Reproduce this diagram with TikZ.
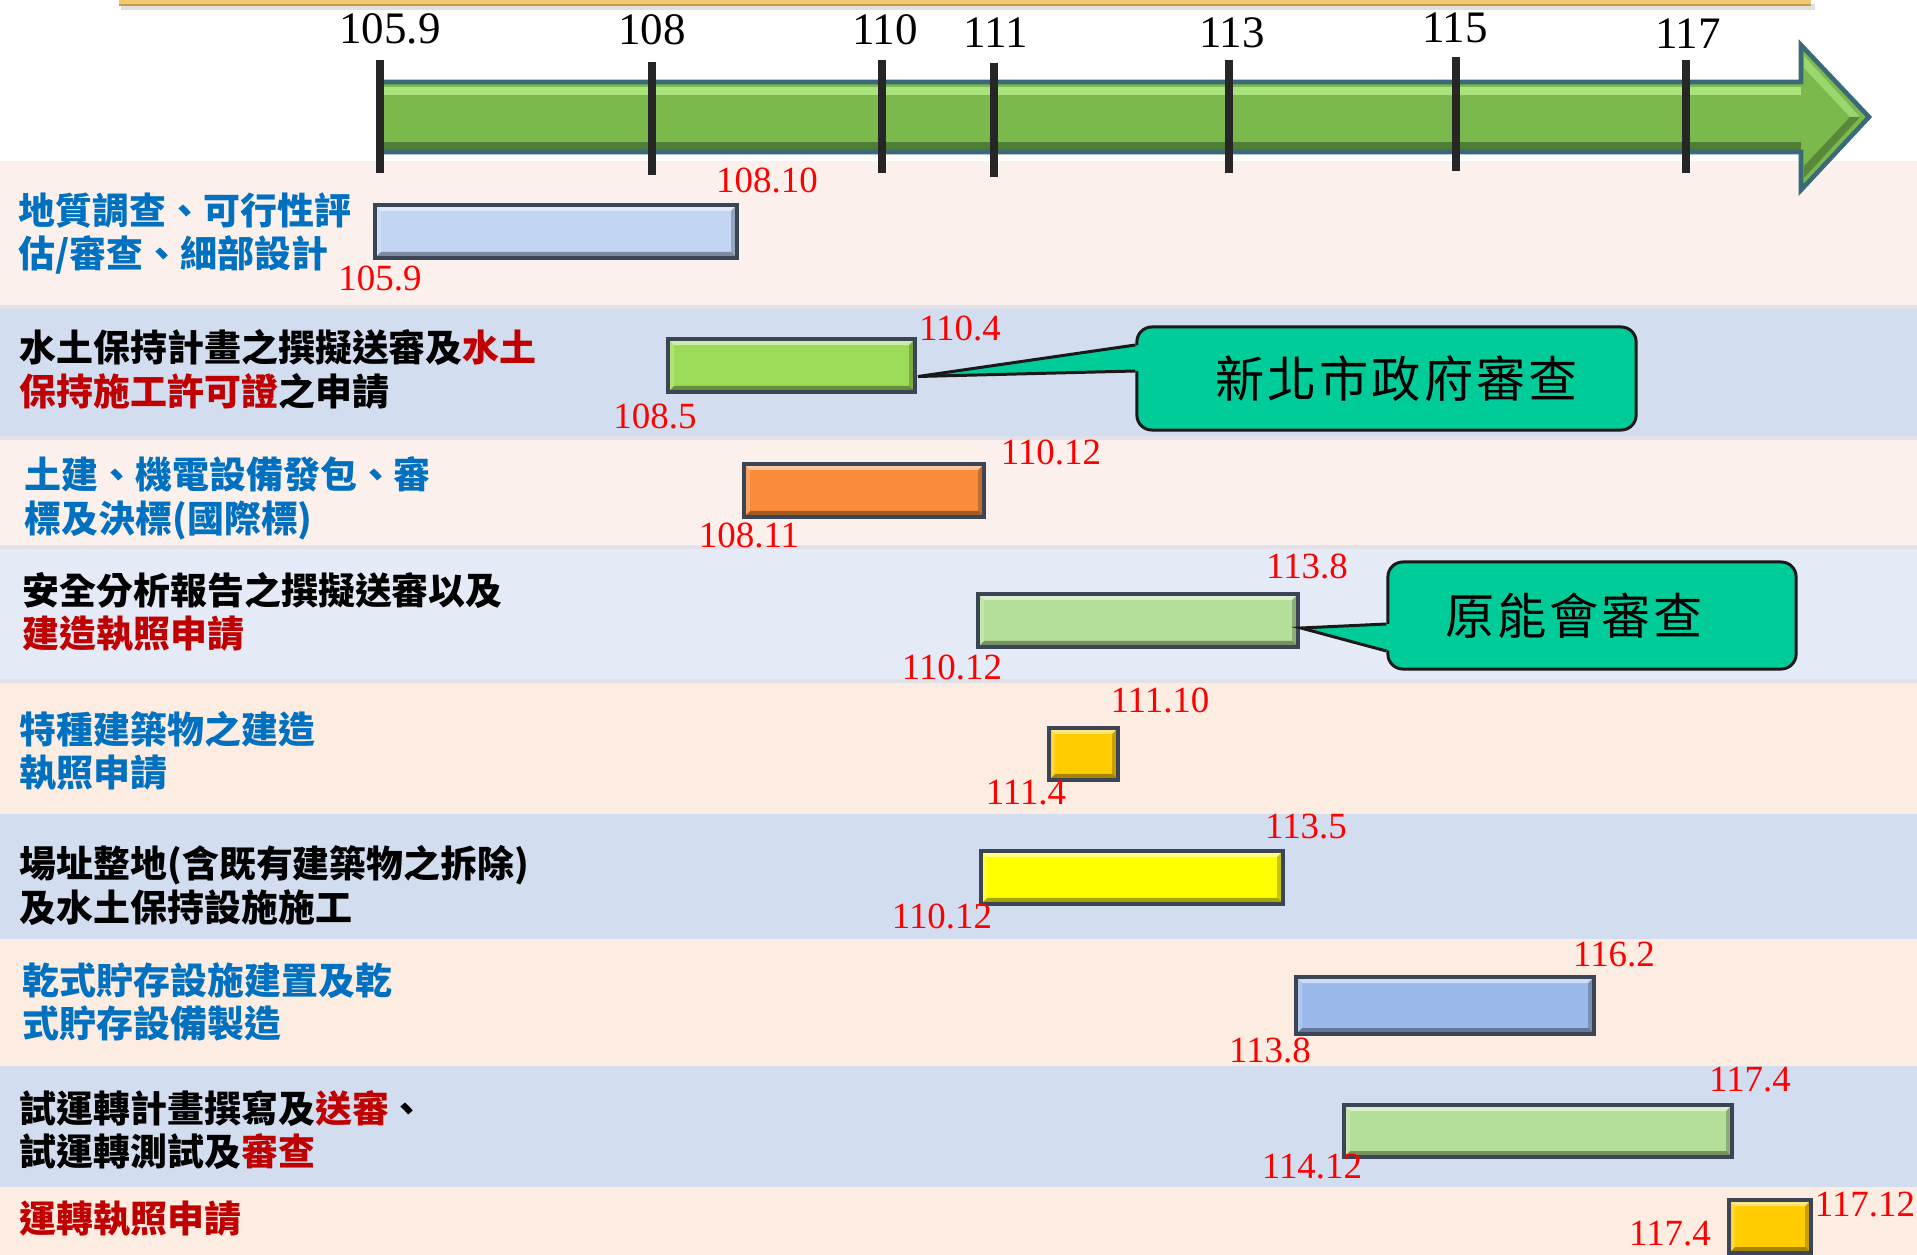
\documentclass[tikz,border=0pt]{standalone}
\usepackage{fontspec}
\setmainfont{Liberation Serif}
\newfontfamily\cjk{Noto Sans CJK TC}
\newfontfamily\cjkcall{Noto Sans CJK TC}[LetterSpace=6]
\usetikzlibrary{fit,calc}
\definecolor{rowpinkA}{HTML}{FBF0EB}
\definecolor{rowpinkB}{HTML}{FDECE2}
\definecolor{rowblue}{HTML}{D2DEEF}
\definecolor{rowblueL}{HTML}{E4EAF6}
\definecolor{rowsep}{HTML}{E3E1E8}
\definecolor{bandfill}{HTML}{F3C873}
\definecolor{bandline}{HTML}{C99A48}
\definecolor{arrgreen}{HTML}{7CB94C}
\definecolor{arrlight}{HTML}{A9E37C}
\definecolor{arrdark}{HTML}{4F7D35}
\definecolor{arrline}{HTML}{3A6A78}
\definecolor{tickcol}{HTML}{262626}
\definecolor{barline}{HTML}{3B4556}
\definecolor{numred}{HTML}{FF0000}
\definecolor{cjkblue}{HTML}{0070C0}
\definecolor{cjkred}{HTML}{C00000}
\definecolor{callfill}{HTML}{00CC99}
\definecolor{cBlueA}{HTML}{C2D5F3}
\definecolor{cLime}{HTML}{9CDB58}
\definecolor{cOrange}{HTML}{FA8B3A}
\definecolor{cPale}{HTML}{B4DF98}
\definecolor{cGold}{HTML}{FFCC00}
\definecolor{cYellow}{HTML}{FFFF00}
\definecolor{cBlueB}{HTML}{9BB8EA}
\begin{document}
\begin{tikzpicture}[x=0.01cm,y=-0.01cm,
  numlab/.style={font=\fontsize{10.5}{12}\selectfont, text=numred, inner sep=0pt},
  ticklab/.style={font=\fontsize{12.8}{14}\selectfont, text=black, inner sep=0pt},
  rowtext/.style={font=\cjk\bfseries\fontsize{10.5}{12.4}\selectfont, align=left, anchor=west, inner sep=0pt},
  tickline/.style={draw=tickcol, line width=2pt},
  callout/.style={draw=black!90, line width=0.85pt, fill=callfill, rounded corners=0.15cm,
    font=\cjkcall\fontsize{14}{16}\selectfont, inner sep=0pt},
  callline/.style={draw=black!90, line width=0.85pt, line join=miter},
  bar/.style={draw=barline, line width=1.1pt, inner sep=0pt, fill=#1,
    path picture={
      \fill[white,opacity=.5] (path picture bounding box.north west) -- (path picture bounding box.north east) -- ($(path picture bounding box.north east)+(-6,6)$) -- ($(path picture bounding box.north west)+(6,6)$) -- cycle;
      \fill[black,opacity=.35] (path picture bounding box.south west) -- (path picture bounding box.south east) -- ($(path picture bounding box.south east)+(-6,-6)$) -- ($(path picture bounding box.south west)+(6,-6)$) -- cycle;
      \fill[black,opacity=.22] (path picture bounding box.north east) -- (path picture bounding box.south east) -- ($(path picture bounding box.south east)+(-6,-6)$) -- ($(path picture bounding box.north east)+(-6,6)$) -- cycle;
      \fill[white,opacity=.2] (path picture bounding box.north west) -- (path picture bounding box.south west) -- ($(path picture bounding box.south west)+(6,-6)$) -- ($(path picture bounding box.north west)+(6,6)$) -- cycle;
    }},
]
\useasboundingbox (0,0) rectangle (1917,1255);
\fill[white] (0,0) rectangle (1917,1255);
% row bands
\fill[rowpinkA] (0,161) rectangle (1917,307);
\fill[rowblue] (0,307) rectangle (1917,438);
\fill[rowpinkA] (0,438) rectangle (1917,547);
\fill[rowblueL] (0,547) rectangle (1917,681);
\fill[rowpinkB] (0,681) rectangle (1917,814);
\fill[rowblue] (0,814) rectangle (1917,939);
\fill[rowpinkB] (0,939) rectangle (1917,1066);
\fill[rowblue] (0,1066) rectangle (1917,1187);
\fill[rowpinkB] (0,1187) rectangle (1917,1255);
\foreach \yy in {307,438,547,681} {\draw[rowsep, line width=1pt] (0,\yy) -- (1917,\yy);}
% top band
\fill[black!12] (121,4) rectangle (1815,10);
\fill[bandfill] (119,-5) rectangle (1811,5);
\draw[bandline, line width=0.8pt] (119,5) -- (1811,5);
% timeline arrow
\fill[arrgreen] (380,82) -- (1801,82) -- (1801,45) -- (1869,117) -- (1801,190) -- (1801,152) -- (380,152) -- cycle;
\fill[arrlight] (382,87) rectangle (1801,95);
\fill[arrdark] (382,142) rectangle (1801,150);
\fill[arrlight!70!arrgreen] (1804,56) -- (1860,117) -- (1850,117) -- (1804,68) -- cycle;
\fill[arrdark!80!arrgreen] (1804,178) -- (1860,117) -- (1850,117) -- (1804,166) -- cycle;
\draw[arrline, line width=1.3pt, line join=miter] (380,82) -- (1801,82) -- (1801,45) -- (1869,117) -- (1801,190) -- (1801,152) -- (380,152);
% ticks
\draw[tickline] (380,60) -- (380,173);
\draw[tickline] (652,62) -- (652,175);
\draw[tickline] (882,60) -- (882,173);
\draw[tickline] (994,63) -- (994,177);
\draw[tickline] (1229,60) -- (1229,173);
\draw[tickline] (1456,57) -- (1456,171);
\draw[tickline] (1686,60) -- (1686,173);
\node[ticklab] (t1) at (390,29) {105.9};
\node[ticklab] (t2) at (652,30) {108};
\node[ticklab] (t3) at (885,30) {110};
\node[ticklab] (t4) at (996,33) {111};
\node[ticklab] (t5) at (1232,33) {113};
\node[ticklab] (t6) at (1455,28) {115};
\node[ticklab] (t7) at (1688,34) {117};
% row texts
\node[rowtext, text=cjkblue] (r1) at (18,233.5) {地質調查、可行性評\\估/審查、細部設計};
\node[rowtext, text=black] (r2) at (19,369.5) {水土保持計畫之撰擬送審及\textcolor{cjkred}{水土}\\\textcolor{cjkred}{保持施工許可證}之申請};
\node[rowtext, text=cjkblue] (r3) at (24,498.5) {土建、機電設備發包、審\\標及決標(國際標)};
\node[rowtext, text=black] (r4) at (22,612) {安全分析報告之撰擬送審以及\\\textcolor{cjkred}{建造執照申請}};
\node[rowtext, text=cjkblue] (r5) at (19,751) {特種建築物之建造\\執照申請};
\node[rowtext, text=black] (r6) at (19,885.5) {場址整地(含既有建築物之拆除)\\及水土保持設施施工};
\node[rowtext, text=cjkblue] (r7) at (22,1002) {乾式貯存設施建置及乾\\式貯存設備製造};
\node[rowtext, text=black] (r8) at (19,1130) {試運轉計畫撰寫及\textcolor{cjkred}{送審}、\\試運轉測試及\textcolor{cjkred}{審查}};
\node[rowtext, text=cjkred] (r9) at (19,1219) {運轉執照申請};
% bars
\node[bar=cBlueA, fit={(375,205) (737,258)}] (b1) {};
\node[bar=cLime, fit={(668,339) (915,392)}] (b2) {};
\node[bar=cOrange, fit={(744,464) (984,517)}] (b3) {};
\node[bar=cPale, fit={(978,594) (1298,647)}] (b4) {};
\node[bar=cGold, fit={(1049,728) (1118,780)}] (b5) {};
\node[bar=cYellow, fit={(981,851) (1283,904)}] (b6) {};
\node[bar=cBlueB, fit={(1296,977) (1594,1034)}] (b7) {};
\node[bar=cPale, fit={(1344,1105) (1732,1157)}] (b8) {};
\node[bar=cGold, fit={(1729,1200) (1811,1253)}] (b9) {};
% number labels
\node[numlab] (n1a) at (767,180) {108.10};
\node[numlab] (n1b) at (380,278) {105.9};
\node[numlab] (n2a) at (960,328) {110.4};
\node[numlab] (n2b) at (655,416) {108.5};
\node[numlab] (n3a) at (1051,452) {110.12};
\node[numlab] (n3b) at (749,535) {108.11};
\node[numlab] (n4a) at (1307,566) {113.8};
\node[numlab] (n4b) at (952,667) {110.12};
\node[numlab] (n5a) at (1160,700) {111.10};
\node[numlab] (n5b) at (1026,793) {111.4};
\node[numlab] (n6a) at (1306,827) {113.5};
\node[numlab] (n6b) at (942,916) {110.12};
\node[numlab] (n7a) at (1614,955) {116.2};
\node[numlab] (n7b) at (1270,1050) {113.8};
\node[numlab] (n8a) at (1750,1080) {117.4};
\node[numlab] (n8b) at (1312,1167) {114.12};
\node[numlab] (n9a) at (1865,1205) {117.12};
\node[numlab] (n9b) at (1670,1234) {117.4};
% callouts
\node[callout, minimum width=4.99cm, minimum height=1.03cm] (c1) at (1386.5,378.5) {\rule{0.2cm}{0pt}新北市政府審查};
\coordinate (p1) at ($(b2.east)+(1,11)$);
\fill[callfill] (p1) -- ($(c1.west)+(4,-33.5)$) -- ($(c1.west)+(4,-7.5)$) -- cycle;
\draw[callline] ($(c1.west)+(0,-33.5)$) -- (p1) -- ($(c1.west)+(0,-7.5)$);
\node[callout, minimum width=4.08cm, minimum height=1.07cm] (c2) at (1592,615.5) {原能會審查\rule{0.36cm}{0pt}};
\coordinate (p2) at ($(b4.east)+(1,7.5)$);
\fill[callfill] (p2) -- ($(c2.west)+(4,8.5)$) -- ($(c2.west)+(4,35.5)$) -- cycle;
\draw[callline] ($(c2.west)+(0,8.5)$) -- (p2) -- ($(c2.west)+(0,35.5)$);
\end{tikzpicture}
\end{document}
